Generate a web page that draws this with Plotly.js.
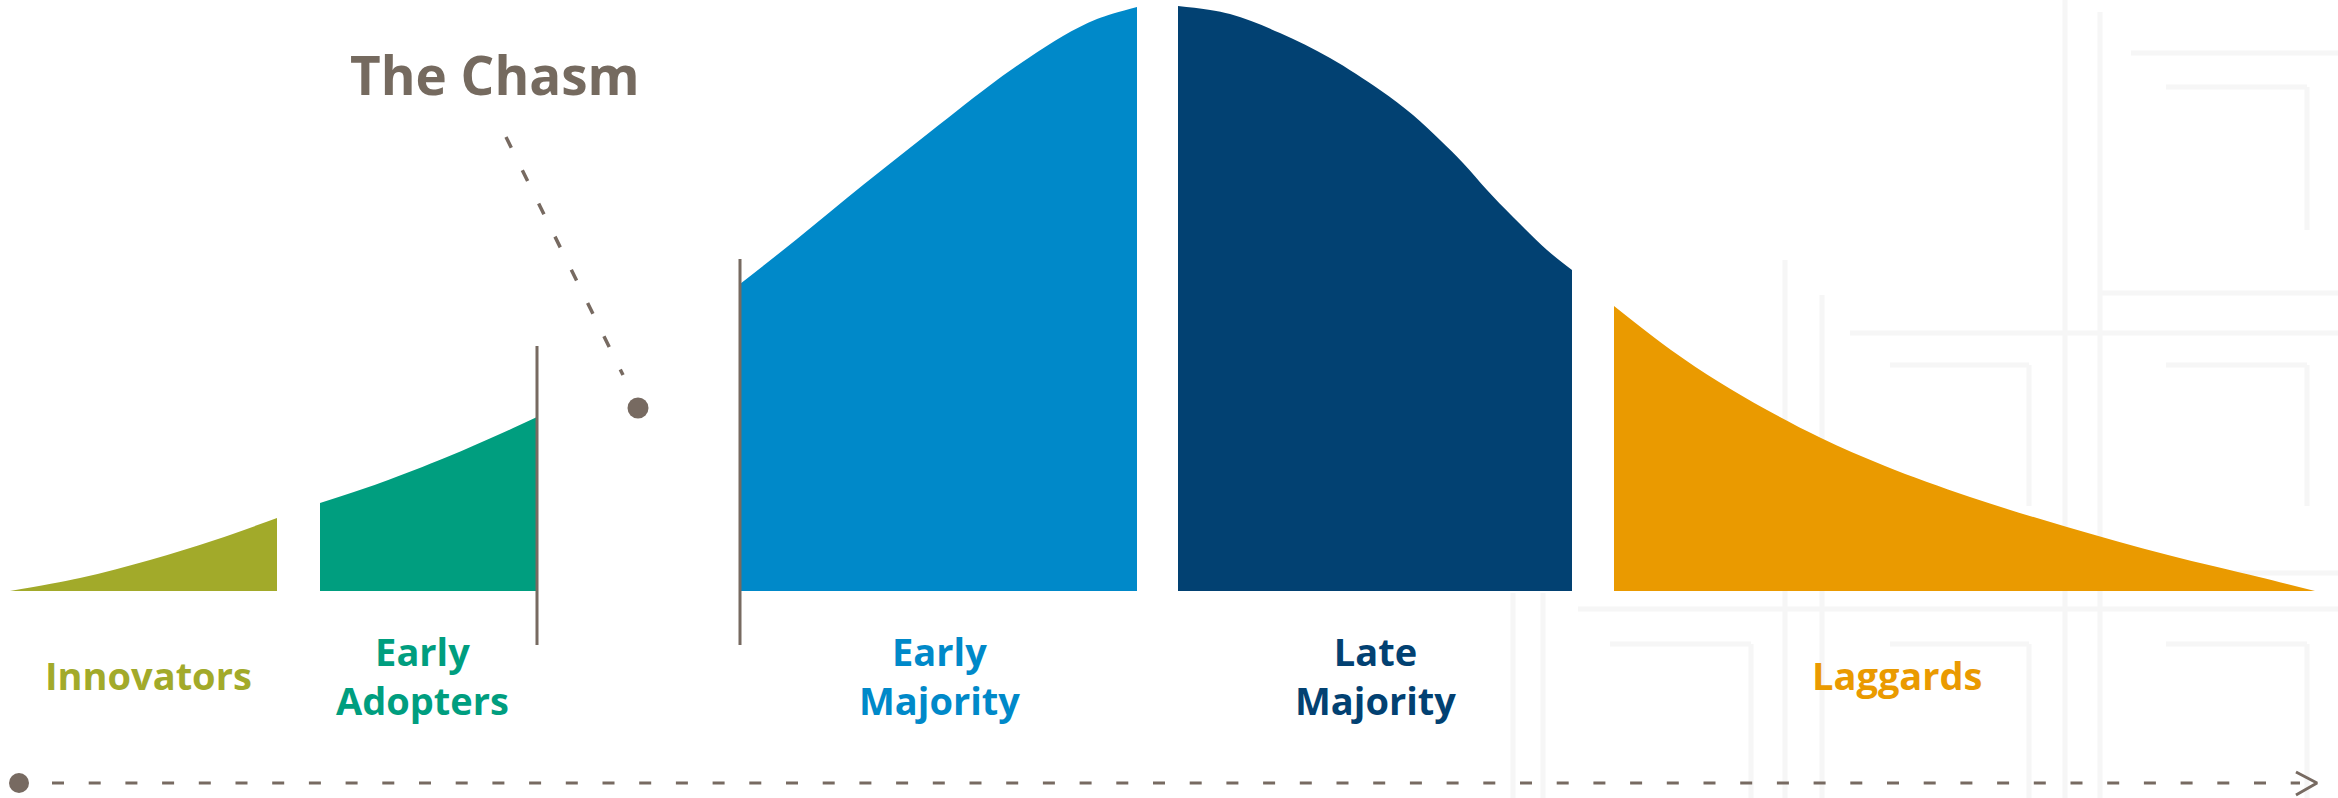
<!DOCTYPE html>
<html>
<head>
<meta charset="utf-8">
<script src="https://cdn.plot.ly/plotly-3.0.1.min.js"></script>
<style>html,body{margin:0;padding:0;background:#ffffff;}#chart{width:2338px;height:798px;}</style>
</head>
<body>
<div id="chart"></div>
<script>
// ---- Data (x: position along adoption timeline, y: height of adoption curve above baseline) ----
const segmentNames = ["Innovators", "Early<br>Adopters", "Early<br>Majority", "Late<br>Majority", "Laggards"];
const segmentColors = ["#a2aa2a", "#009e7f", "#0089c9", "#024172", "#ea9a00"];

const innovatorsX = [10, 80, 150, 215, 277];
const innovatorsY = [0, 13, 31, 51, 73];

const earlyAdoptersX = [320, 380, 447, 500, 537];
const earlyAdoptersY = [88, 108, 134, 157, 174];

const earlyMajorityX = [740, 797, 863, 930, 997, 1030, 1063, 1097, 1137];
const earlyMajorityY = [307, 352, 406, 459, 511, 534, 555, 572, 584];

const lateMajorityX = [1178, 1230, 1280, 1330, 1380, 1413, 1440, 1463, 1487, 1513, 1547, 1572];
const lateMajorityY = [585, 577, 558, 533, 501, 476, 451, 428, 401, 374, 341, 321];

const laggardsX = [1614, 1671, 1719, 1767, 1821, 1885, 1970, 2067, 2168, 2259, 2315];
const laggardsY = [285, 241, 209, 181, 153, 125, 94, 64, 36, 14, 0];

// label anchor positions (centre of each segment label)
const labelX = [148, 422, 939, 1375, 1897];
const labelY = [-84, -84, -84, -84, -84];

// chasm boundaries
const chasmEdgesX = [537, 740];
const chasmEdgesTop = [245, 332];
const chasmEdgesBottom = [-54, -54];
const chasmPoint = {x: 638, y: 183};
const chasmLeaderX = [506, 623];
const chasmLeaderY = [454, 216];
const chasmTitle = {text: "The Chasm", x: 495, y: 517};

// timeline arrow
const timelineX = [52, 2300];
const timelineY = [-192, -192];
const timelineStart = {x: 19, y: -192};
const arrowHeadX = [2296, 2317, 2296];
const arrowHeadY = [-181, -192, -204];

const GRAY = "#776a61";
const BASE = 591; // pixel row of the baseline

// ---- Traces ----
const segX = [innovatorsX, earlyAdoptersX, earlyMajorityX, lateMajorityX, laggardsX];
const segY = [innovatorsY, earlyAdoptersY, earlyMajorityY, lateMajorityY, laggardsY];

const traces = [];
segX.forEach((xs, i) => {
  traces.push({
    type: "scatter", mode: "lines", x: xs, y: segY[i],
    fill: "tozeroy", fillcolor: segmentColors[i],
    line: {width: 0, color: segmentColors[i], shape: "spline", smoothing: 1},
    hoverinfo: "skip", showlegend: false
  });
});

chasmEdgesX.forEach((cx, i) => {
  traces.push({
    type: "scatter", mode: "lines", x: [cx, cx], y: [chasmEdgesBottom[i], chasmEdgesTop[i]],
    line: {color: GRAY, width: 3}, hoverinfo: "skip", showlegend: false
  });
});

traces.push({
  type: "scatter", mode: "lines", x: chasmLeaderX, y: chasmLeaderY,
  line: {color: GRAY, width: 3.5, dash: "12px,25px"}, hoverinfo: "skip", showlegend: false
});
traces.push({
  type: "scatter", mode: "markers", x: [chasmPoint.x], y: [chasmPoint.y],
  marker: {color: GRAY, size: 21}, hoverinfo: "skip", showlegend: false
});

traces.push({
  type: "scatter", mode: "lines", x: timelineX, y: timelineY,
  line: {color: GRAY, width: 3, dash: "12px,24.7px"}, hoverinfo: "skip", showlegend: false
});
traces.push({
  type: "scatter", mode: "markers", x: [timelineStart.x], y: [timelineStart.y],
  marker: {color: GRAY, size: 20}, hoverinfo: "skip", showlegend: false
});
traces.push({
  type: "scatter", mode: "lines", x: arrowHeadX, y: arrowHeadY,
  line: {color: GRAY, width: 3}, hoverinfo: "skip", showlegend: false
});

// ---- Annotations ----
const FONT = "'Open Sans', 'Noto Sans', sans-serif";
const annotations = segmentNames.map((name, i) => ({
  x: labelX[i], y: labelY[i], xref: "x", yref: "y",
  text: "<b>" + name + "</b>", showarrow: false,
  xanchor: "center", yanchor: "middle", align: "center",
  font: {family: FONT, size: 38, color: segmentColors[i]}
}));
annotations.push({
  x: chasmTitle.x, y: chasmTitle.y, xref: "x", yref: "y",
  text: "<b>" + chasmTitle.text + "</b>", showarrow: false,
  xanchor: "center", yanchor: "middle",
  font: {family: FONT, size: 53, color: "#756a5f"}
});

// ---- Decorative faint maze background (pixel coordinates) ----
const mazeSegments = [
  [2065, 0, 2065, 798], [2100, 12, 2100, 798],
  [2131, 53, 2338, 53], [2166, 87, 2307, 87], [2307, 87, 2307, 230],
  [2100, 293, 2338, 293], [1850, 333, 2338, 333],
  [1785, 260, 1785, 798], [1822, 295, 1822, 798],
  [1890, 365, 2029, 365], [2029, 365, 2029, 506],
  [2166, 365, 2307, 365], [2307, 365, 2307, 506],
  [2100, 573, 2338, 573], [1578, 609, 2338, 609],
  [1513, 593, 1513, 798], [1543, 593, 1543, 798],
  [1610, 644, 1751, 644], [1751, 644, 1751, 798],
  [1890, 644, 2029, 644], [2029, 644, 2029, 798],
  [2166, 644, 2307, 644], [2307, 644, 2307, 798]
];
const shapes = mazeSegments.map(s => ({
  type: "line", xref: "x", yref: "y", layer: "below",
  x0: s[0], y0: BASE - s[1], x1: s[2], y1: BASE - s[3],
  line: {color: "#f6f6f6", width: 5}
}));

const layout = {
  width: 2338, height: 798, autosize: false,
  margin: {l: 0, r: 0, t: 0, b: 0, pad: 0},
  paper_bgcolor: "#ffffff", plot_bgcolor: "#ffffff",
  xaxis: {range: [0, 2338], visible: false, fixedrange: true},
  yaxis: {range: [BASE - 798, BASE], visible: false, fixedrange: true},
  showlegend: false, annotations: annotations, shapes: shapes
};

Plotly.newPlot("chart", traces, layout, {displayModeBar: false, staticPlot: true});
</script>
</body>
</html>
